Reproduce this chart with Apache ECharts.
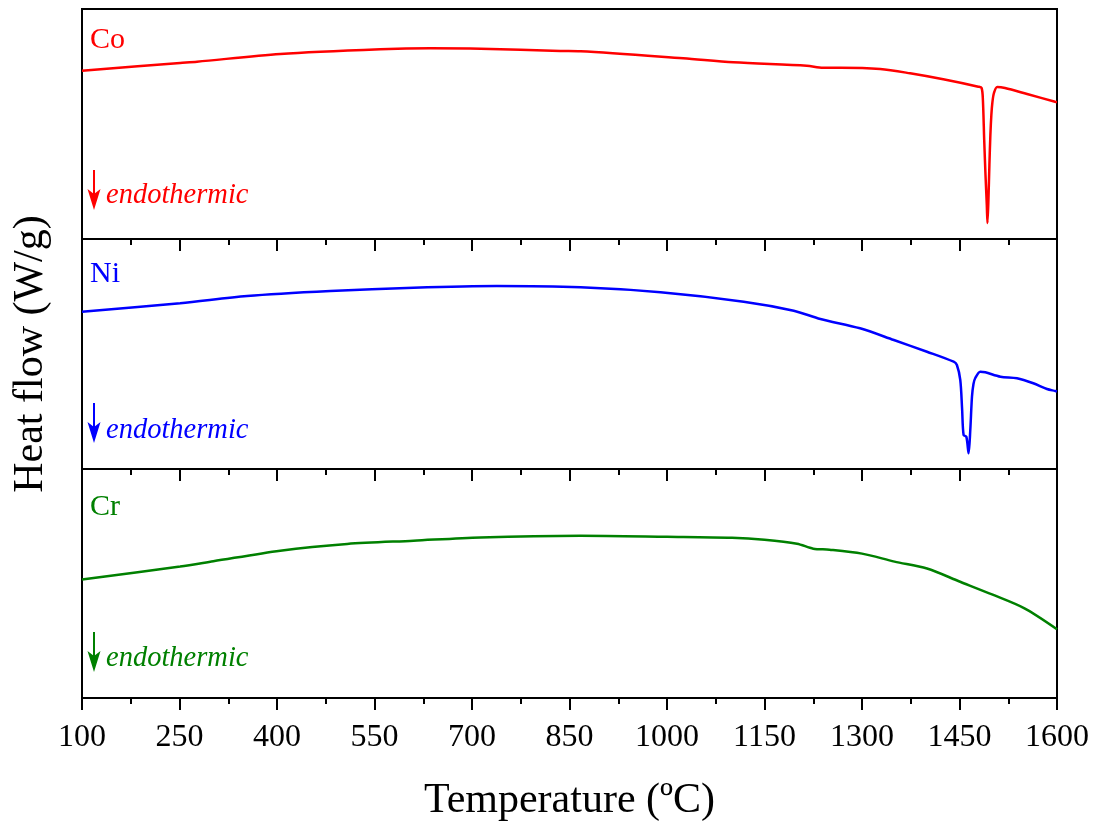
<!DOCTYPE html>
<html>
<head>
<meta charset="utf-8">
<title>DSC heat flow</title>
<script src="https://cdn.jsdelivr.net/npm/echarts@6/dist/echarts.min.js"></script>
<style>
  html, body { margin: 0; padding: 0; background: #fff; }
  #chart { width: 1108px; height: 827px; }
</style>
</head>
<body>
<div id="chart"></div>
<script>
// temperature (ºC) and heat flow (arbitrary units, panel scale 0..230)
const coTemp = [100, 251, 277, 405, 559, 636, 713, 836, 867, 1025, 1102, 1215, 1240, 1267, 1328, 1374, 1425, 1479, 1484, 1486, 1488, 1490, 1492, 1493, 1494.5, 1496, 1497.5, 1499, 1500.5, 1503, 1508, 1520, 1554, 1597, 1600]
const coFlow = [168.3, 176, 177.3, 185, 189.7, 190.7, 190.3, 188, 187.7, 180.7, 176.7, 173.3, 171.3, 171.3, 170, 165.7, 159.7, 152.3, 151, 139, 99, 64, 34, 16, 39, 74, 104, 124, 136, 146, 152, 151, 145, 137.3, 137]

const niTemp = [100, 251, 354, 482, 610, 738, 867, 990, 1118, 1195, 1236, 1297, 1349, 1400, 1441, 1446, 1451.2, 1454, 1456.3, 1460.5, 1464, 1466.6, 1469.2, 1471.5, 1474.3, 1481.9, 1489.7, 1513, 1538.5, 1563.5, 1584.6, 1597.4, 1600]
const niFlow = [157.3, 165.7, 173, 178, 181.3, 183, 181.7, 176.7, 167.3, 158.3, 150, 140.7, 129, 117.3, 107.3, 104, 89, 60, 34, 32.3, 15.7, 39, 72.3, 85, 91, 97.3, 96.7, 92.3, 90.7, 85.7, 80, 78, 77.5]

const crTemp = [100, 251, 302, 405, 508, 610, 713, 867, 1000, 1100, 1150, 1200, 1225, 1250, 1300, 1350, 1400, 1450, 1500, 1550, 1600]
const crFlow = [119, 132, 137.3, 148, 154.7, 158, 161.3, 163, 162, 161, 159, 155, 150, 149, 145, 137, 130, 117, 104, 90, 69]

const panelNames = ['Co', 'Ni', 'Cr']
const panelColors = ['#ff0000', '#0000ff', '#008000']
const xTickLabels = ['100', '250', '400', '550', '700', '850', '1000', '1150', '1300', '1450', '1600']

const T0 = 100 // axis starts at 100, data is shifted so ticks count from 0
const FONT = '"Liberation Serif", "Times New Roman", serif'

// layout of the three stacked panels
const gridLeft = 82
const gridRight = 51
const panelTops = [9, 239, 469]
const panelHeights = [230, 230, 229]

const chart = echarts.init(document.getElementById('chart'))

const seriesData = [
  coTemp.map((t, i) => [t - T0, coFlow[i]]),
  niTemp.map((t, i) => [t - T0, niFlow[i]]),
  crTemp.map((t, i) => [t - T0, crFlow[i]])
]

const grids = panelTops.map((top, i) => ({
  left: gridLeft,
  right: gridRight,
  top: top,
  height: panelHeights[i],
  show: true,
  borderColor: '#000',
  borderWidth: 2,
  backgroundColor: 'transparent'
}))

const xAxes = panelTops.map((_, i) => ({
  gridIndex: i,
  type: 'value',
  min: 0,
  max: 1500,
  interval: 150,
  axisLine: { show: true, lineStyle: { color: '#000', width: 2 } },
  axisTick: { show: true, length: 12, lineStyle: { color: '#000', width: 2 } },
  minorTick: { show: true, splitNumber: 2, length: 6, lineStyle: { color: '#000', width: 2 } },
  splitLine: { show: false },
  axisLabel: {
    show: i === 2,
    margin: 24,
    fontSize: 32,
    fontFamily: FONT,
    color: '#000',
    formatter: (v) => xTickLabels[Math.round(v / 150)]
  },
  name: i === 2 ? 'Temperature (ºC)' : '',
  nameLocation: 'middle',
  nameGap: 82,
  nameTextStyle: { fontSize: 42, fontFamily: FONT, color: '#000' }
}))

const yAxes = panelTops.map((_, i) => ({
  gridIndex: i,
  type: 'value',
  min: 0,
  max: 230,
  axisLine: { show: false },
  axisTick: { show: false },
  axisLabel: { show: false },
  splitLine: { show: false },
  name: i === 1 ? 'Heat flow (W/g)' : '',
  nameLocation: 'middle',
  nameGap: 30,
  nameTextStyle: { fontSize: 42, fontFamily: FONT, color: '#000' }
}))

const series = seriesData.map((d, i) => ({
  name: panelNames[i],
  type: 'line',
  xAxisIndex: i,
  yAxisIndex: i,
  data: d,
  showSymbol: false,
  smooth: 0.3,
  lineStyle: { color: panelColors[i], width: 2.5 },
  itemStyle: { color: panelColors[i] },
  animation: false
}))

// panel labels, arrows and "endothermic" notes (offsets from panel top)
const nameOffsets = [31, 35, 38]
const arrowTops = [161, 164, 163]
const noteOffsets = [187, 192, 190]

const graphics = []
panelTops.forEach((top, i) => {
  const c = panelColors[i]
  graphics.push({
    type: 'text',
    left: 90,
    top: top + nameOffsets[i] - 15,
    style: { text: panelNames[i], fill: c, font: '30px ' + FONT }
  })
  const ax = 94
  const y1 = top + arrowTops[i]
  const y2 = y1 + 40
  graphics.push({
    type: 'line',
    shape: { x1: ax, y1: y1, x2: ax, y2: y2 - 14 },
    style: { stroke: c, lineWidth: 2 }
  })
  graphics.push({
    type: 'polygon',
    shape: { points: [[ax - 6.5, y2 - 21], [ax, y2 - 16], [ax + 6.5, y2 - 21], [ax, y2]] },
    style: { fill: c }
  })
  graphics.push({
    type: 'text',
    left: 106,
    top: top + noteOffsets[i] - 15,
    style: { text: 'endothermic', fill: c, font: 'italic 28.5px ' + FONT }
  })
})

const option = {
  backgroundColor: '#fff',
  animation: false,
  grid: grids,
  xAxis: xAxes,
  yAxis: yAxes,
  series: series,
  graphic: graphics
}

chart.setOption(option)
</script>
</body>
</html>
